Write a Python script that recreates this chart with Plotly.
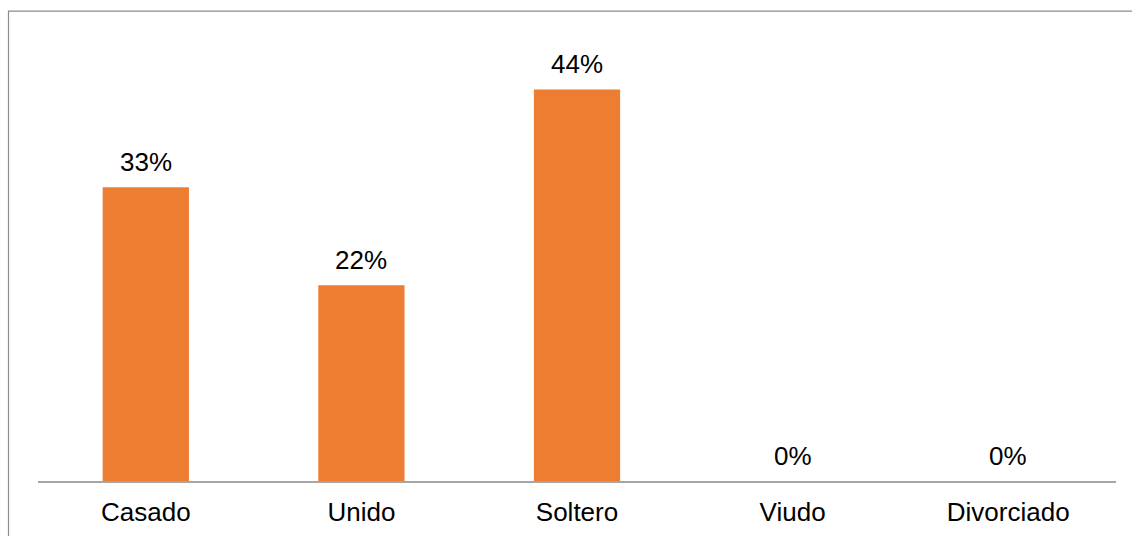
import plotly.graph_objects as go

# Estado civil: porcentaje por categoría
categorias = ["Casado", "Unido", "Soltero", "Viudo", "Divorciado"]
porcentajes = [33, 22, 44, 0, 0]
etiquetas = [f"{v}%" for v in porcentajes]

W, H = 1132, 536
M_L, M_R, M_T, M_B = 38, 16, 35.5, 55
plot_w = W - M_L - M_R
plot_h = H - M_T - M_B
FONT = "Liberation Sans, Arial, sans-serif"
FS = 26

fig = go.Figure(
    go.Bar(
        x=categorias,
        y=porcentajes,
        marker=dict(color="#ED7D31", line=dict(width=0)),
        hoverinfo="x+y",
    )
)

# Etiquetas de valor sobre cada barra
for cat, val, txt in zip(categorias, porcentajes, etiquetas):
    fig.add_annotation(
        x=cat, y=val, text=txt, showarrow=False,
        yanchor="middle", yshift=25,
        font=dict(family=FONT, size=FS, color="#000000"),
    )

# Marco exterior del gráfico
fig.add_shape(
    type="rect", xref="paper", yref="paper",
    x0=(8.5 - M_L) / plot_w, x1=1.2,
    y0=-0.5, y1=(H - M_B - 10.5) / plot_h,
    line=dict(color="#8C8C8C", width=1.2), fillcolor="rgba(0,0,0,0)",
    layer="below",
)

fig.update_layout(
    width=W, height=H,
    margin=dict(l=M_L, r=M_R, t=M_T, b=M_B, autoexpand=False),
    paper_bgcolor="white", plot_bgcolor="white",
    bargap=0.6,
    showlegend=False,
    font=dict(family=FONT, size=FS, color="#000000"),
    xaxis=dict(
        showline=True, linecolor="#A6A6A6", linewidth=1.5,
        showgrid=False, ticks="", zeroline=False,
        tickfont=dict(family=FONT, size=FS, color="#000000"),
        ticklabelstandoff=7,
    ),
    yaxis=dict(
        range=[0, 50], visible=False, showgrid=False, zeroline=False,
    ),
)

fig.write_html("out.html")
